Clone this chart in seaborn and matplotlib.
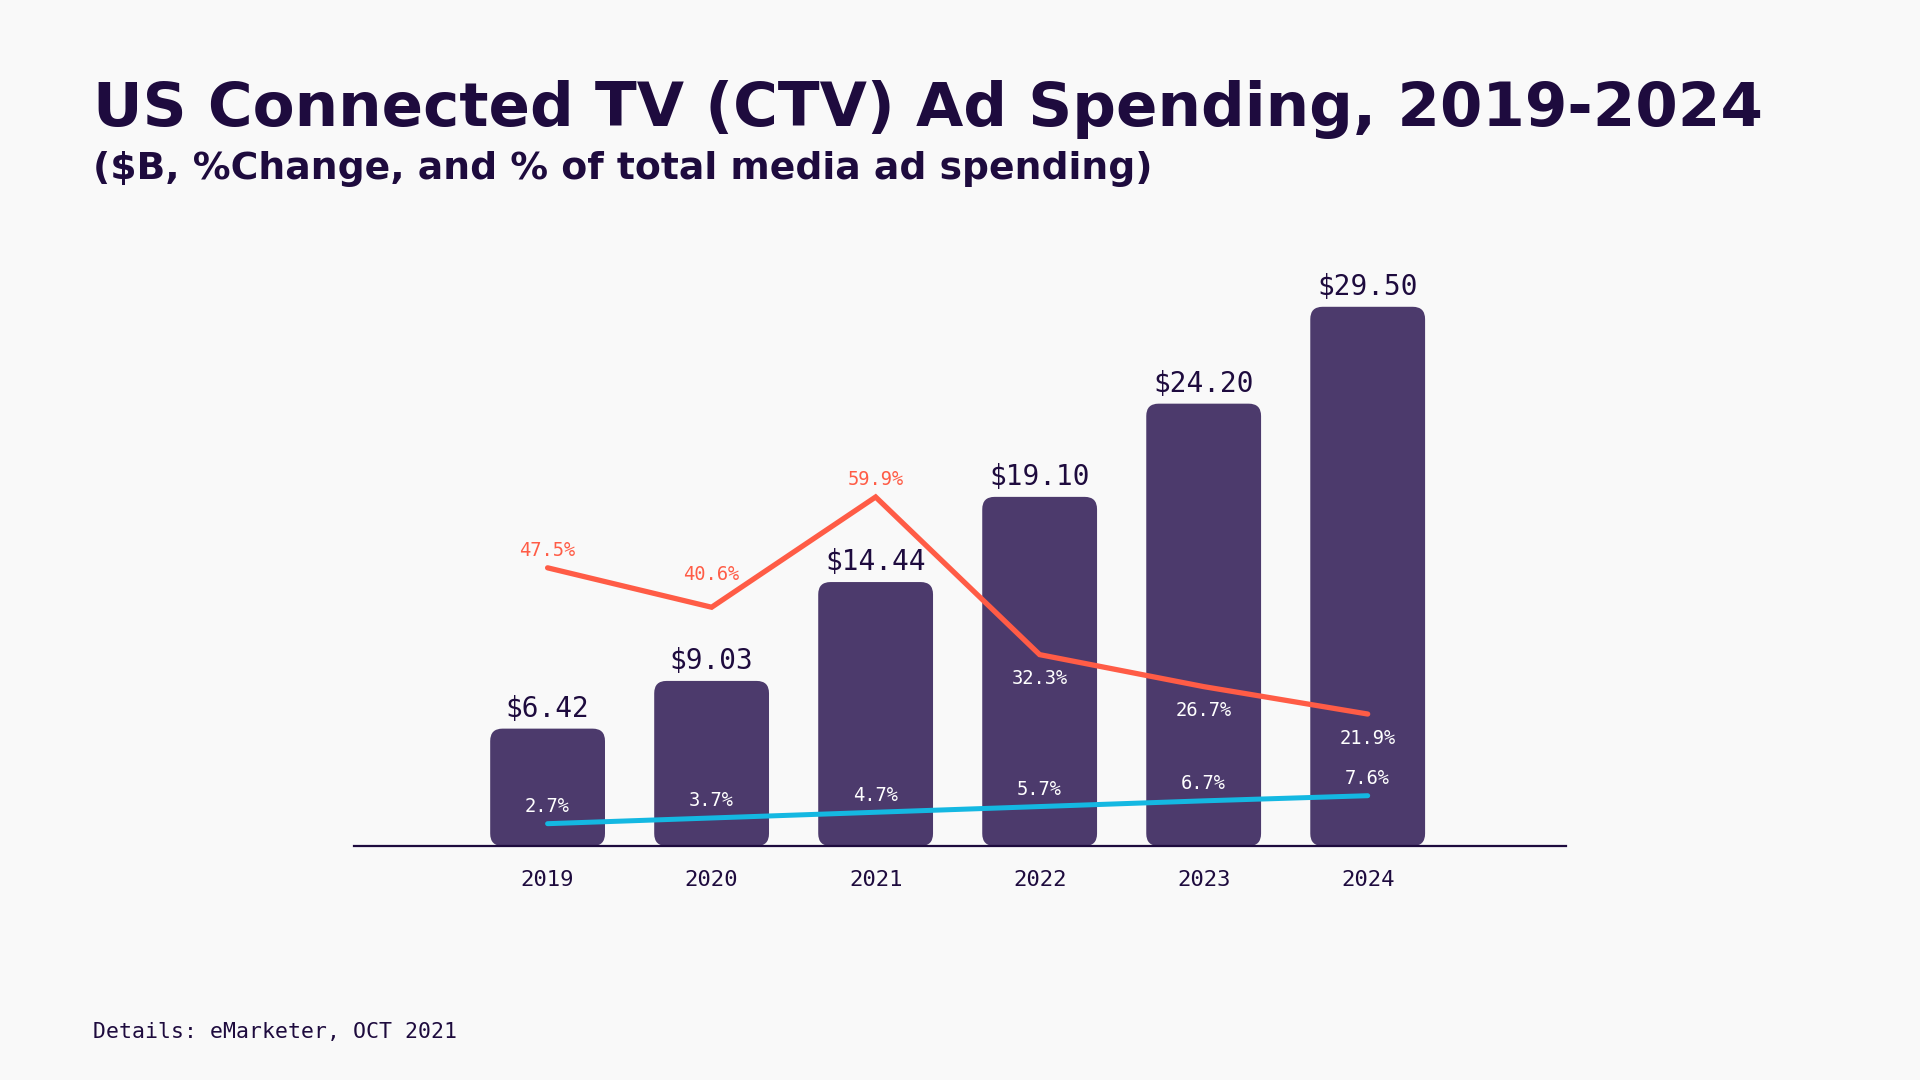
import numpy as np
import pandas as pd
import matplotlib
matplotlib.use("Agg")
import matplotlib.pyplot as plt
import seaborn as sns
from matplotlib.patches import FancyBboxPatch

# ---- data ----
years = ["2019", "2020", "2021", "2022", "2023", "2024"]
spend_b = [6.42, 9.03, 14.44, 19.10, 24.20, 29.50]
pct_change = [47.5, 40.6, 59.9, 32.3, 26.7, 21.9]
pct_of_total = [2.7, 3.7, 4.7, 5.7, 6.7, 7.6]

title = "US Connected TV (CTV) Ad Spending, 2019-2024"
subtitle = "($B, %Change, and % of total media ad spending)"
footer = "Details: eMarketer, OCT 2021"

# ---- style ----
BG = "#F9F9F9"
NAVY = "#1E0B3E"
BAR = "#4C3A6C"
RED = "#FF5C46"
BLUE = "#14B8E2"
MONO = ["DejaVu Sans Mono"]
SANS = ["DejaVu Sans"]

sns.set_theme(style="white")
plt.rcParams["font.family"] = SANS
plt.rcParams["figure.facecolor"] = BG
plt.rcParams["axes.facecolor"] = BG

fig = plt.figure(figsize=(19.2, 10.8), dpi=100)
ax = fig.add_axes([0.1844, 0.2167, 0.6313, 0.55])
ax.set_facecolor("none")

df = pd.DataFrame({"year": years, "spend": spend_b,
                   "chg": pct_change, "share": pct_of_total})

sns.barplot(data=df, x="year", y="spend", color=BAR, width=0.7,
            saturation=1, edgecolor="none", ax=ax)
ax.set_xlim(-1.18, 6.21)
ax.set_ylim(0, 32.5)

# rounded bars replacing the rectangles
rects = list(ax.patches)
for r in rects:
    x0, y0 = r.get_x(), r.get_y()
    w, h = r.get_width(), r.get_height()
    fb = FancyBboxPatch((x0, y0), w, h,
                        boxstyle="round,pad=0,rounding_size=0.075",
                        mutation_aspect=9.0, facecolor=BAR,
                        edgecolor="none", zorder=2)
    r.remove()
    ax.add_patch(fb)

for i, v in enumerate(spend_b):
    ax.annotate(f"${v:.2f}", (i, v), xytext=(0, 6),
                textcoords="offset pixels", ha="center", va="bottom",
                fontsize=20, color=NAVY, family=MONO)

for s in ["top", "left", "right"]:
    ax.spines[s].set_visible(False)
ax.spines["bottom"].set_color(NAVY)
ax.spines["bottom"].set_linewidth(1.6)
ax.set_yticks([])
ax.set_xlabel("")
ax.set_ylabel("")
ax.tick_params(axis="x", length=0, pad=17, labelsize=16, labelcolor=NAVY)
for t in ax.get_xticklabels():
    t.set_family(MONO)

# ---- lines on secondary axis ----
ax2 = ax.twinx()
ax2.set_ylim(-1.2, 102.8)
ax2.set_axis_off()
xs = np.arange(len(years))
sns.lineplot(x=xs, y=pct_change, color=RED, linewidth=3.8, ax=ax2,
             solid_capstyle="round", solid_joinstyle="miter")
sns.lineplot(x=xs, y=pct_of_total, color=BLUE, linewidth=3.6, ax=ax2,
             solid_capstyle="round")
ax2.set_xlim(ax.get_xlim())

fig.canvas.draw()
for i, v in enumerate(pct_change):
    pt_y = ax2.transData.transform((i, v))[1]
    bar_top = ax.transData.transform((i, spend_b[i]))[1]
    if pt_y > bar_top:
        local_min = (0 < i < len(pct_change) - 1 and
                     v < pct_change[i - 1] and v < pct_change[i + 1])
        off = 33 if local_min else 17
        ax2.annotate(f"{v}%", (i, v), xytext=(0, off),
                     textcoords="offset pixels", ha="center", va="center",
                     fontsize=13.5, color=RED, family=MONO)
    else:
        ax2.annotate(f"{v}%", (i, v), xytext=(0, -24),
                     textcoords="offset pixels", ha="center", va="center",
                     fontsize=13.5, color="white", family=MONO)

for i, v in enumerate(pct_of_total):
    ax2.annotate(f"{v}%", (i, v), xytext=(0, 17),
                 textcoords="offset pixels", ha="center", va="center",
                 fontsize=13.5, color="white", family=MONO)

# ---- texts ----
fig.text(93 / 1920, 1 - 126 / 1080, title, fontsize=44, fontweight="bold",
         color=NAVY, ha="left", va="baseline", family=SANS)
fig.text(93 / 1920, 1 - 179 / 1080, subtitle, fontsize=27.2, fontweight="bold",
         color=NAVY, ha="left", va="baseline", family=SANS)
fig.text(93 / 1920, 1 - 1038 / 1080, footer, fontsize=15.5,
         color=NAVY, ha="left", va="baseline", family=MONO)

fig.savefig("out.png", dpi=100, facecolor=BG)
